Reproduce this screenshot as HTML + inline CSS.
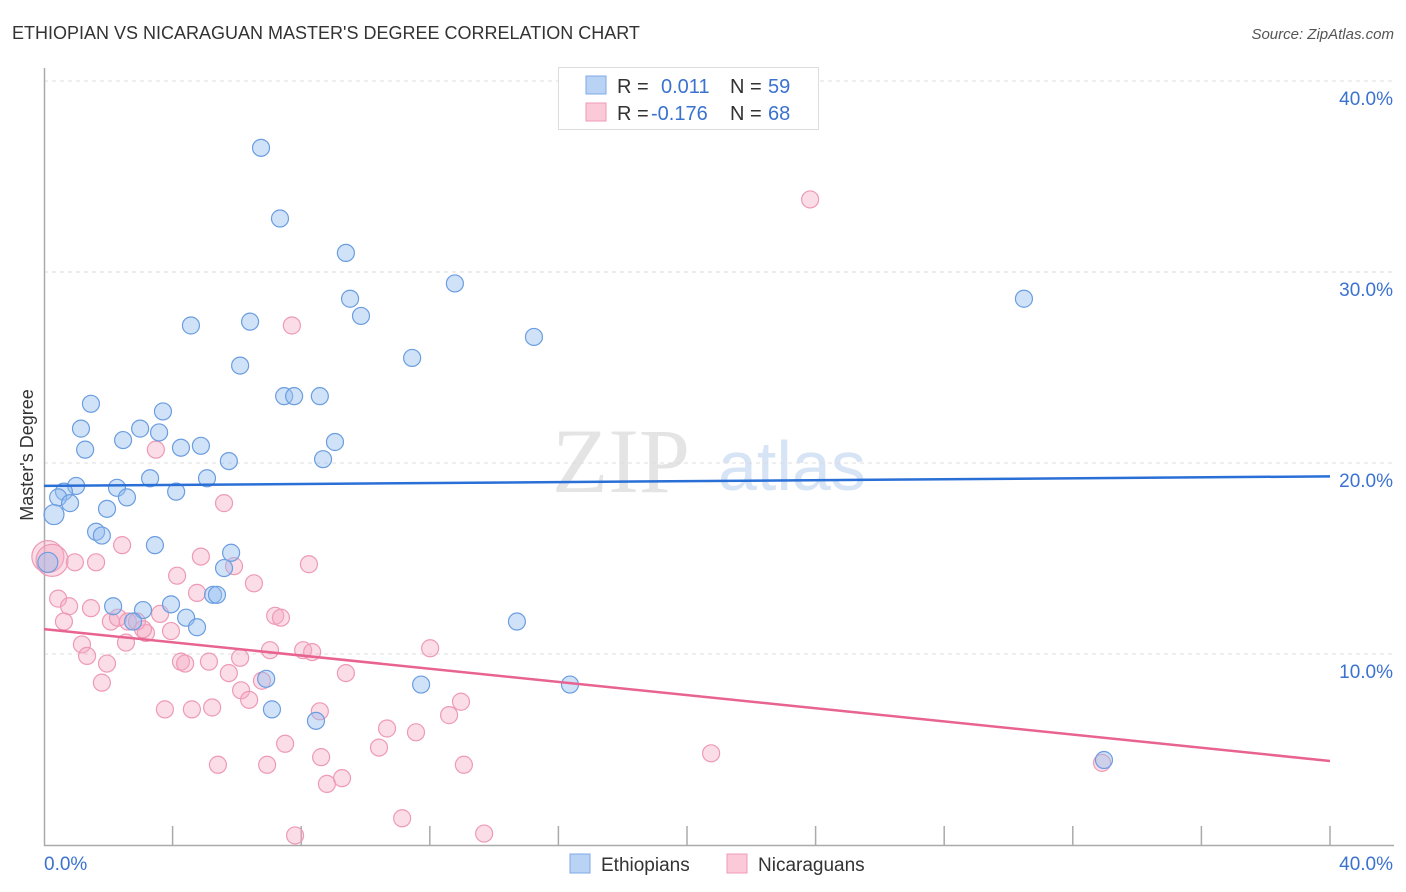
<!DOCTYPE html>
<html><head><meta charset="utf-8"><style>
body{margin:0;background:#fff;font-family:"Liberation Sans",sans-serif;}
#wrap{position:relative;width:1406px;height:892px;overflow:hidden;}
</style></head><body>
<div id="wrap">
<svg id="svg" width="1406" height="892" xmlns="http://www.w3.org/2000/svg">
<text x="12" y="39" font-size="18" fill="#333">ETHIOPIAN VS NICARAGUAN MASTER'S DEGREE CORRELATION CHART</text>
<text x="1394" y="39" font-size="15" fill="#555" font-style="italic" text-anchor="end">Source: ZipAtlas.com</text>
<text transform="translate(33,455) rotate(-90)" font-size="18" fill="#333" text-anchor="middle">Master's Degree</text>
<text x="552" y="492" font-size="92" fill="#e4e4e4" font-family="Liberation Serif,serif">ZIP</text>
<text x="718" y="490" font-size="70" fill="#d6e4f5">atlas</text>
<g id="grid"></g><g id="pts"></g><g id="lines"></g>
<g>
<rect x="558.5" y="67.5" width="260" height="62" fill="#fff" stroke="#ddd"/>
<rect x="586" y="76" width="20" height="18" fill="#b9d3f5" stroke="#7fa9e6"/>
<rect x="586" y="103" width="20" height="18" fill="#fbc9d8" stroke="#f09bb6"/>
<text x="617" y="93" font-size="20" fill="#333">R = </text><text x="661" y="93" font-size="20" fill="#3b72d0">0.011</text>
<text x="730" y="93" font-size="20" fill="#333">N = </text><text x="768" y="93" font-size="20" fill="#3b72d0">59</text>
<text x="617" y="120" font-size="20" fill="#333">R = </text><text x="651" y="120" font-size="20" fill="#3b72d0">-0.176</text>
<text x="730" y="120" font-size="20" fill="#333">N = </text><text x="768" y="120" font-size="20" fill="#3b72d0">68</text>
</g>
<g>
<rect x="570" y="854" width="20" height="19" fill="#b9d3f5" stroke="#7fa9e6"/>
<text x="601" y="871" font-size="19" fill="#333">Ethiopians</text>
<rect x="727" y="854" width="20" height="19" fill="#fbc9d8" stroke="#f09bb6"/>
<text x="758" y="871" font-size="19" fill="#333">Nicaraguans</text>
</g>
</svg>
</div>
<script>
const yTicks=[10,20,30,40];
const yTickLabels=["10.0%","20.0%","30.0%","40.0%"];
const xEdgeLabels=["0.0%","40.0%"];
const ethX=[6.75,7.34,9.39,12.78,9.52,9.86,30.48,4.57,6.41,15.24,6.10,11.45,1.46,7.47,7.78,8.58,3.70,1.15,2.99,3.58,1.28,2.46,4.26,4.88,9.05,5.75,8.68,3.30,5.07,1.0,2.27,0.62,4.11,0.44,2.58,0.81,1.96,0.31,1.62,1.80,3.45,5.82,5.60,0.12,5.26,5.38,2.15,3.08,3.95,4.42,4.76,2.77,14.71,6.91,11.73,16.36,7.09,8.46,32.97];
const ethY=[36.5,32.8,31.0,29.4,28.6,27.7,28.6,27.2,27.4,26.6,25.1,25.5,23.1,23.5,23.5,23.5,22.7,21.8,21.8,21.6,20.7,21.2,20.8,20.9,21.1,20.1,20.2,19.2,19.2,18.8,18.7,18.5,18.5,18.2,18.2,17.9,17.6,17.3,16.4,16.2,15.7,15.3,14.5,14.8,13.1,13.1,12.5,12.3,12.6,11.9,11.4,11.7,11.7,8.7,8.4,8.4,7.1,6.5,4.45];
const nicX=[0.12,0.25,0.96,1.62,2.43,7.71,23.83,3.48,5.60,4.88,4.14,5.91,6.53,8.24,0.44,0.78,1.46,4.76,3.61,0.62,2.08,2.30,2.61,3.17,2.89,1.18,1.34,1.96,3.95,3.08,2.55,1.80,4.26,4.39,5.13,6.10,7.03,8.06,8.34,7.19,7.37,12.01,5.75,6.13,6.78,9.39,3.76,4.60,5.23,6.38,8.58,12.97,12.60,5.41,6.94,7.50,8.62,10.42,10.67,11.57,9.27,8.80,13.06,20.75,32.91,11.14,13.69,7.81];
const nicY=[15.1,14.9,14.8,14.8,15.7,27.2,33.8,20.7,17.9,15.1,14.1,14.6,13.7,14.7,12.9,12.5,12.4,13.2,12.1,11.7,11.7,11.9,11.7,11.1,11.7,10.5,9.9,9.5,11.2,11.3,10.6,8.5,9.6,9.5,9.6,9.8,10.2,10.2,10.1,12.0,11.9,10.3,9.0,8.1,8.6,9.0,7.1,7.1,7.2,7.6,7.0,7.5,6.8,4.2,4.2,5.3,4.6,5.1,6.1,5.9,3.5,3.2,4.2,4.8,4.3,1.4,0.6,0.5];
const ethTrend=[18.8,19.3];
const nicTrend=[11.3,4.4];
const NS="http://www.w3.org/2000/svg";
const sx=v=>44+v*32.15, sy=v=>845-v*19.1;
function mk(tag,attrs,parent){const e=document.createElementNS(NS,tag);for(const k in attrs)e.setAttribute(k,attrs[k]);parent.appendChild(e);return e;}
const grid=document.getElementById('grid');
yTicks.forEach((t,i)=>{
 const l=mk('line',{x1:44,x2:1394,y1:sy(t),y2:sy(t),stroke:'#ddd','stroke-dasharray':'4,4'},grid);
 
 
 const tx=mk('text',{x:1393,y:sy(t)+24,'font-size':19,fill:'#3b72d0','text-anchor':'end'},grid);
 tx.textContent=yTickLabels[i];
 
 
});
const ax=mk('path',{d:'M44.5 68V845.5H1394',stroke:'#aaa',fill:'none','stroke-width':1.5},grid);


for(let i=1;i<=10;i++){const t=mk('line',{x1:sx(i*4),x2:sx(i*4),y1:826,y2:845,stroke:'#aaa','stroke-width':1.5},grid);
 
 }
xEdgeLabels.forEach((s,i)=>{const t=mk('text',{x:i?1393:44,y:870,'font-size':19,fill:'#3b72d0','text-anchor':i?'end':'start'},grid);t.textContent=s;
 
 });
const pts=document.getElementById('pts');
function draw(xs,ys,fill,stroke,name){xs.forEach((x,i)=>{const big=x<0.35&&ys[i]>14&&ys[i]<18;
 const c=mk('circle',{cx:sx(x),cy:sy(ys[i]),r:big?(name==='nicaraguan'?16:10):8.5,fill:fill,stroke:stroke,'stroke-width':1.2},pts);
 
 });}
draw(nicX,nicY,'rgba(246,170,195,0.4)','#ee9ab5','nicaraguan');
draw(ethX,ethY,'rgba(150,190,240,0.45)','#6b9de0','ethiopian');
const lines=document.getElementById('lines');
const b=mk('line',{x1:sx(0),y1:sy(ethTrend[0]),x2:sx(40),y2:sy(ethTrend[1]),stroke:'#2a6fd6','stroke-width':2.5},lines);


const p=mk('line',{x1:sx(0),y1:sy(nicTrend[0]),x2:sx(40),y2:sy(nicTrend[1]),stroke:'#e8638f','stroke-width':2.5},lines);


</script>
</body></html>
